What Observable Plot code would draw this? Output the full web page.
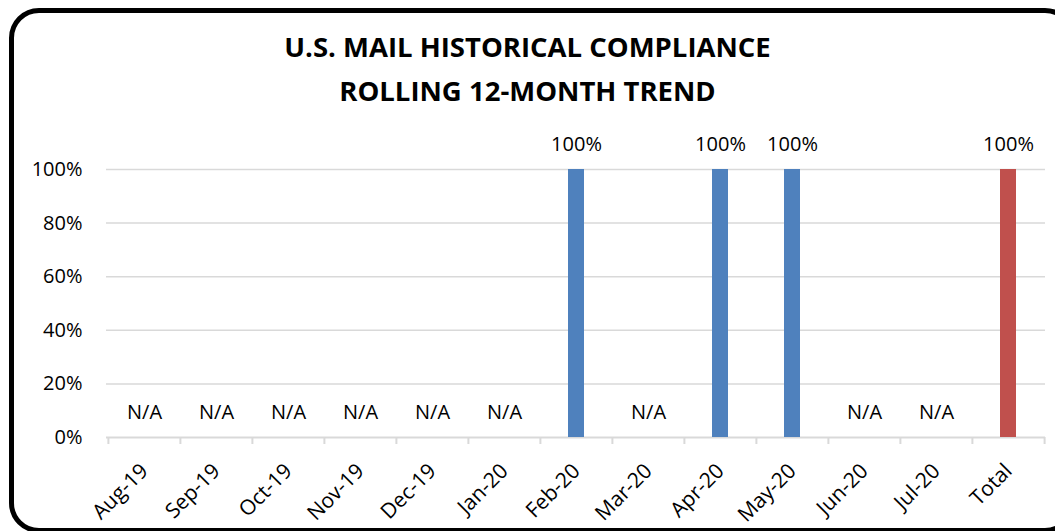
<!DOCTYPE html>
<html><head><meta charset="utf-8">
<script src="https://cdn.jsdelivr.net/npm/d3@7"></script>
<script src="https://cdn.jsdelivr.net/npm/@observablehq/plot@0.6"></script>
<style>
body{margin:0;background:#fff;font-family:"Open Sans",sans-serif;overflow:hidden}
#wrap{position:relative;width:1055px;height:531px;overflow:hidden;background:#fff}
#frame{position:absolute;left:9px;top:8px;width:1066px;height:525px;box-sizing:border-box;border:5px solid #000;border-radius:30px;pointer-events:none}
#title{height:130px;box-sizing:border-box;padding-top:25px;text-align:center;font-weight:700;font-size:27.5px;line-height:44px;color:#000}
#chart svg{display:block}
</style></head>
<body>
<div id="wrap">
  <div id="title">U.S. MAIL HISTORICAL COMPLIANCE<br>ROLLING 12-MONTH TREND</div>
  <div id="chart"></div>
  <div id="frame"></div>
</div>
<script>
const categories = ["Aug-19","Sep-19","Oct-19","Nov-19","Dec-19","Jan-20","Feb-20","Mar-20","Apr-20","May-20","Jun-20","Jul-20","Total"];
const values = [null,null,null,null,null,null,1,null,1,1,null,null,1];
const kinds = ["month","month","month","month","month","month","month","month","month","month","month","month","total"];
const yTicks = [0,0.2,0.4,0.6,0.8,1];

const data = categories.map((c,i)=>({cat:c, value:values[i], kind:kinds[i]}));
const W = 1055, H = 401, mt = 39, mb = 94, ml = 106, mr = 10;
const bw = (W - ml - mr) / categories.length;
const plotH = H - mt - mb;
const pct = d3.format(".0%");
const gridColor = "#d9d9d9";

const chart = Plot.plot({
  width: W, height: H, marginTop: mt, marginBottom: mb, marginLeft: ml, marginRight: mr,
  style: {fontFamily: "'Open Sans', sans-serif", fontSize: "20px", color: "#000", background: "transparent", overflow: "visible"},
  x: {domain: categories, padding: 0, label: null},
  y: {domain: [0, 1], label: null},
  color: {domain: ["month","total"], range: ["#4f81bd","#c0504d"]},
  marks: [
    Plot.ruleY(yTicks.filter(d => d > 0), {stroke: gridColor, strokeWidth: 1.5}),
    Plot.ruleY([0], {stroke: gridColor, strokeWidth: 2}),
    Plot.ruleX(categories, {x: d => d, dx: -bw/2, insetTop: plotH, insetBottom: -7, stroke: gridColor, strokeWidth: 2}),
    Plot.ruleX(categories.slice(-1), {x: d => d, dx: bw/2, insetTop: plotH, insetBottom: -7, stroke: gridColor, strokeWidth: 2}),
    Plot.barY(data.filter(d => d.value != null), {x: "cat", y: "value", fill: "kind", insetLeft: 28, insetRight: 28}),
    Plot.text(data, {x: "cat", y: d => d.value ?? 0, text: d => d.value == null ? "N/A" : pct(d.value), lineAnchor: "bottom", dy: -19, fontSize: 20, fill: "#000"}),
    Plot.axisY({ticks: yTicks, tickFormat: pct, tickSize: 0, tickPadding: 24, fontSize: 20, label: null}),
    Plot.axisX({tickSize: 0, tickRotate: -45, tickPadding: 30, fontSize: 21, label: null})
  ]
});
document.getElementById("chart").appendChild(chart);
</script>
</body></html>
